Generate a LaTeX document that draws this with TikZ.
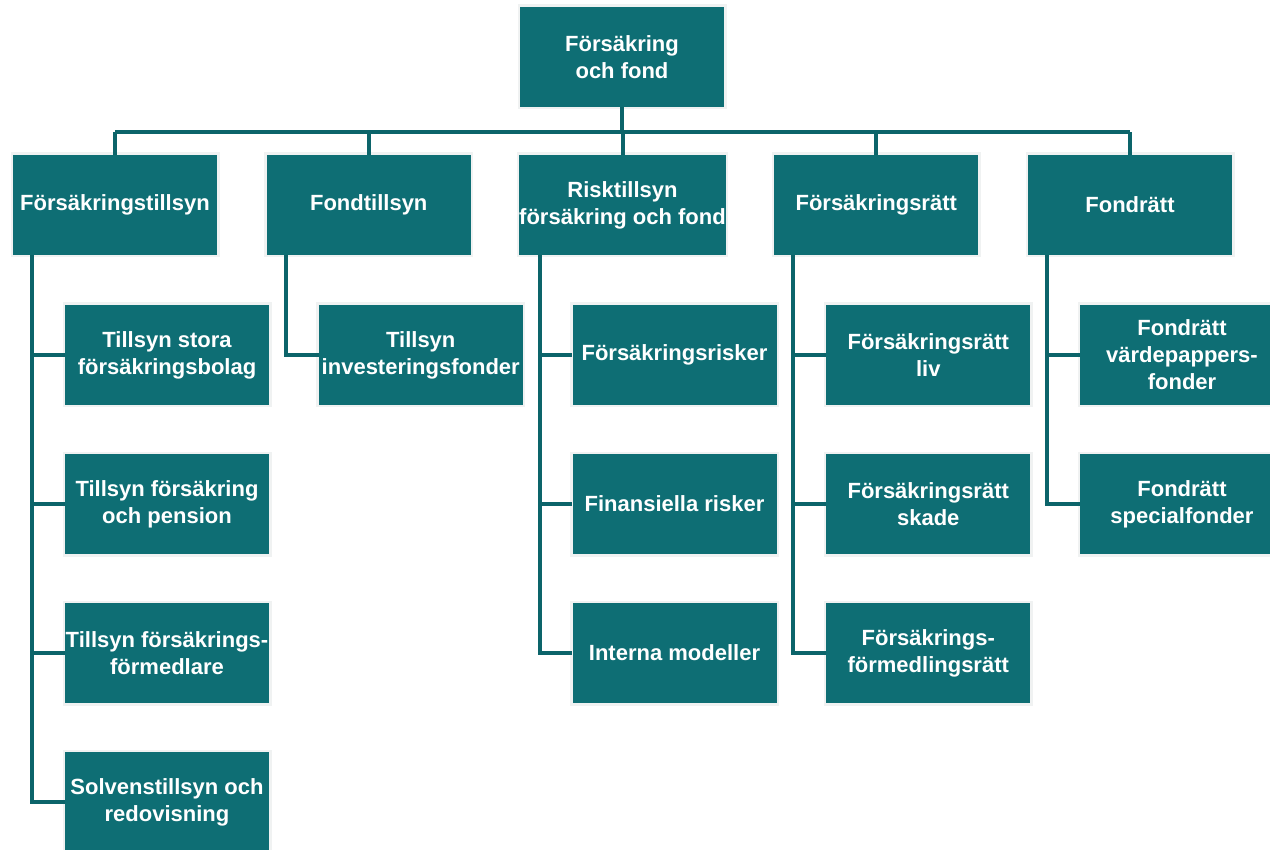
\documentclass[tikz,border=0pt]{standalone}
\usepackage{fontspec}
\setmainfont{Liberation Sans}
\definecolor{tealfill}{RGB}{14,110,116}
\definecolor{tealline}{RGB}{12,100,106}
\definecolor{rim}{RGB}{240,242,242}
\begin{document}
\begin{tikzpicture}[x=1pt,y=-1pt,
  box/.style={fill=tealfill, preaction={draw=rim, line width=5pt},
    minimum width=204pt, minimum height=100pt, inner sep=0pt,
    text=white, align=center,
    font=\fontsize{22pt}{27pt}\selectfont\bfseries},
  conn/.style={draw=tealline, line width=4pt}]
\useasboundingbox (0,0) rectangle (1270,850);
\coordinate (barL) at (115,132);
\coordinate (barR) at (1130,132);
% nodes
\node[box] (root) at (622,57) {Försäkring\\och fond};
\node[box] (A) at (115,205) {Försäkringstillsyn};
\node[box] (B) at (368.75,205) {Fondtillsyn};
\node[box] (C) at (622.5,205) {Risktillsyn\\försäkring och fond};
\node[box] (D) at (876.25,205) {Försäkringsrätt};
\node[box] (E) at (1130,205) {Fondrätt};
\node[box] (A1) at (167,355) {Tillsyn stora\\försäkringsbolag};
\node[box] (A2) at (167,504) {Tillsyn försäkring\\och pension};
\node[box] (A3) at (167,653) {Tillsyn försäkrings-\\förmedlare};
\node[box] (A4) at (167,802) {Solvenstillsyn och\\redovisning};
\node[box] (B1) at (420.75,355) {Tillsyn\\investeringsfonder};
\node[box] (C1) at (674.5,355) {Försäkringsrisker};
\node[box] (C2) at (674.5,504) {Finansiella risker};
\node[box] (C3) at (674.5,653) {Interna modeller};
\node[box] (D1) at (928.25,355) {Försäkringsrätt\\liv};
\node[box] (D2) at (928.25,504) {Försäkringsrätt\\skade};
\node[box] (D3) at (928.25,653) {Försäkrings-\\förmedlingsrätt};
\node[box] (E1) at (1182,355) {Fondrätt\\värdepappers-\\fonder};
\node[box] (E2) at (1182,504) {Fondrätt\\specialfonder};
% top level connectors
\draw[conn] (barL) -- (barR);
\draw[conn] (root.south) -- (root.south |- barL);
\foreach \n in {A,B,C,D,E}{
  \draw[conn] (\n.north) -- (\n.north |- barL);
}
% child connectors
\foreach \p/\kids in {A/{A1,A2,A3,A4}, B/{B1}, C/{C1,C2,C3}, D/{D1,D2,D3}, E/{E1,E2}}{
  \foreach \k in \kids {
    \draw[conn] ([xshift=-83pt]\p.south) |- (\k.west);
  }
}
\end{tikzpicture}
\end{document}
